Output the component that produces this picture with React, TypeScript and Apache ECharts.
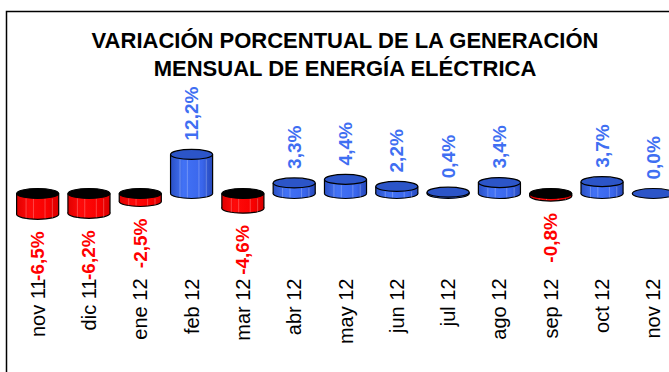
import React, { useEffect, useRef } from "react";
import * as echarts from "echarts";

const categories = [
  "nov 11", "dic 11", "ene 12", "feb 12", "mar 12", "abr 12", "may 12",
  "jun 12", "jul 12", "ago 12", "sep 12", "oct 12", "nov 12",
];
const variation = [-6.5, -6.2, -2.5, 12.2, -4.6, 3.3, 4.4, 2.2, 0.4, 3.4, -0.8, 3.7, 0.0];
const titleLines = [
  "VARIACIÓN PORCENTUAL DE LA GENERACIÓN",
  "MENSUAL DE ENERGÍA ELÉCTRICA",
];

const FONT = "'Liberation Sans', Arial, Helvetica, sans-serif";
const BLUE_LABEL = "#3f6ff2";
const RED_LABEL = "#ff0000";

function fmt(v: number) {
  return v.toFixed(1).replace(".", ",") + "%";
}

export default function App() {
  const ref = useRef<HTMLDivElement>(null);
  useEffect(() => {
    if (!ref.current) return;
    const chart = echarts.init(ref.current, null, { renderer: "svg" });
    const renderItem = (params: any, api: any) => {
      const idx = api.value(0);
      const v = api.value(1);
      const pZero = api.coord([idx, 0]);
      const pVal = api.coord([idx, v]);
      const band = api.size([1, 0])[0];
      const cx = pZero[0];
      const rx = band * 0.41;
      const ry = 5;
      const pos = v >= 0;
      const top = pos ? pVal[1] : pZero[1];
      const bottom = pos ? pZero[1] : pVal[1];
      const h = bottom - top;
      const bodyFill = pos
        ? new echarts.graphic.LinearGradient(0, 0, 1, 0, [
            { offset: 0, color: "#2a50c4" },
            { offset: 0.3, color: "#4272f5" },
            { offset: 0.75, color: "#3a66ec" },
            { offset: 1, color: "#2648b8" },
          ])
        : new echarts.graphic.LinearGradient(0, 0, 1, 0, [
            { offset: 0, color: "#e00000" },
            { offset: 0.3, color: "#ff0a0a" },
            { offset: 0.75, color: "#f80000" },
            { offset: 1, color: "#d80000" },
          ]);
      const topFill = pos ? "#2c55c8" : "#000000";
      const children: any[] = [];
      if (h > 0.5) {
        children.push({
          type: "ellipse",
          shape: { cx, cy: bottom, rx, ry },
          style: { fill: bodyFill, stroke: "#000", lineWidth: 1.2 },
        });
        children.push({
          type: "rect",
          shape: { x: cx - rx, y: top, width: rx * 2, height: h },
          style: { fill: bodyFill },
        });
        [-0.55, -0.2, 0.35, 0.7].forEach((f) => {
          children.push({
            type: "line",
            shape: { x1: cx + f * rx, y1: top + ry, x2: cx + f * rx, y2: bottom + ry * 0.8 },
            style: { stroke: "rgba(255,255,255,0.25)", lineWidth: 1 },
          });
        });
        children.push({
          type: "line",
          shape: { x1: cx - rx, y1: top, x2: cx - rx, y2: bottom },
          style: { stroke: "#000", lineWidth: 1.2 },
        });
        children.push({
          type: "line",
          shape: { x1: cx + rx, y1: top, x2: cx + rx, y2: bottom },
          style: { stroke: "#000", lineWidth: 1.2 },
        });
      }
      children.push({
        type: "ellipse",
        shape: { cx, cy: top, rx, ry },
        style: { fill: topFill, stroke: "#000", lineWidth: 1.2 },
      });
      children.push({
        type: "text",
        x: cx,
        y: pos ? top - 14 : bottom + 17,
        rotation: Math.PI / 2,
        style: {
          text: fmt(v),
          fill: pos ? BLUE_LABEL : RED_LABEL,
          font: `bold 19px ${FONT}`,
          align: pos ? "left" : "right",
          verticalAlign: "middle",
        },
      });
      return { type: "group", children };
    };

    chart.setOption({
      animation: false,
      backgroundColor: "#ffffff",
      title: {
        text: titleLines.join("\n"),
        left: "center",
        top: 21,
        textStyle: {
          fontFamily: FONT,
          fontWeight: "bold",
          fontSize: 22,
          lineHeight: 28,
          color: "#000",
        },
      },
      graphic: [
        {
          type: "rect",
          shape: { x: 6.5, y: 11.5, width: 676, height: 420 },
          style: { fill: "none", stroke: "#000", lineWidth: 1.5 },
          silent: true,
          z: 100,
        },
      ],
      grid: { left: 12, right: 11, top: 129.5, bottom: 98.5 },
      xAxis: {
        type: "category",
        data: categories,
        axisLine: { show: false, onZero: false },
        axisTick: { show: false },
        axisLabel: {
          rotate: 90,
          interval: 0,
          margin: 5,
          fontSize: 20,
          fontFamily: FONT,
          color: "#000",
        },
      },
      yAxis: {
        type: "value",
        min: -25,
        max: 20,
        show: false,
        splitLine: { show: false },
      },
      series: [
        {
          type: "custom",
          renderItem,
          clip: false,
          data: variation.map((v, i) => [i, v]),
        },
      ],
    });
    return () => chart.dispose();
  }, []);
  return (
    <div style={{ position: "fixed", left: 0, top: 0, width: 669, height: 372, overflow: "hidden", background: "#fff" }}>
      <div ref={ref} style={{ width: 690, height: 372 }} />
    </div>
  );
}
